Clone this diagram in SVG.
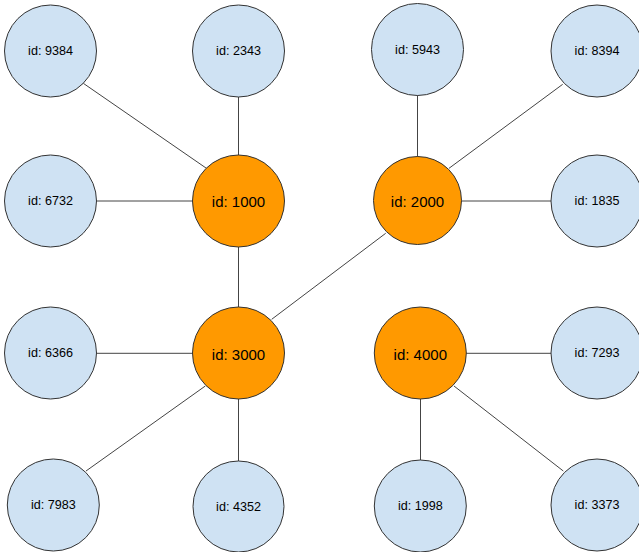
<svg xmlns="http://www.w3.org/2000/svg" width="639" height="552" viewBox="0 0 639 552">
<style>
.leaf circle{fill:#cfe2f3;stroke:#333;stroke-width:1}
.hub circle{fill:#ff9900;stroke:#333;stroke-width:1}
text{font-family:"Liberation Sans",Arial,sans-serif;fill:#000;text-anchor:middle;dominant-baseline:central}
.leaf text{font-size:12.6px}
.hub text{font-size:15px}
#edges line{stroke:#444;stroke-width:1}
</style>
<rect width="639" height="552" fill="#fff"/>
<g id="edges">
<line x1="83.3" y1="83.3" x2="206" y2="168"/>
<line x1="238.5" y1="97" x2="238.5" y2="155"/>
<line x1="97" y1="201" x2="193" y2="201"/>
<line x1="238.5" y1="247" x2="238.5" y2="307"/>
<line x1="417.5" y1="95" x2="417.5" y2="157"/>
<line x1="562.7" y1="84.3" x2="449" y2="168.3"/>
<line x1="461" y1="201" x2="551" y2="201"/>
<line x1="385.7" y1="233.3" x2="271.7" y2="319.3"/>
<line x1="97" y1="353.3" x2="193" y2="353.3"/>
<line x1="205.3" y1="386" x2="86" y2="471"/>
<line x1="238.5" y1="399" x2="238.5" y2="461"/>
<line x1="466" y1="353.3" x2="551" y2="353.3"/>
<line x1="420.5" y1="399" x2="420.5" y2="460"/>
<line x1="454" y1="386" x2="563.3" y2="471"/>
</g>
<g id="n9384" class="leaf"><circle cx="50.5" cy="51" r="46"/><text x="50.5" y="51">id: 9384</text></g>
<g id="n2343" class="leaf"><circle cx="238.5" cy="51" r="46"/><text x="238.5" y="51">id: 2343</text></g>
<g id="n5943" class="leaf"><circle cx="417.5" cy="49.5" r="46"/><text x="417.5" y="49.5">id: 5943</text></g>
<g id="n8394" class="leaf"><circle cx="597" cy="51" r="46"/><text x="597" y="51">id: 8394</text></g>
<g id="n6732" class="leaf"><circle cx="50.5" cy="201" r="46"/><text x="50.5" y="201">id: 6732</text></g>
<g id="n1000" class="hub"><circle cx="238.5" cy="201" r="46"/><text x="238.5" y="201">id: 1000</text></g>
<g id="n2000" class="hub"><circle cx="417.5" cy="200.5" r="44"/><text x="417.5" y="201">id: 2000</text></g>
<g id="n1835" class="leaf"><circle cx="597" cy="201" r="46"/><text x="597" y="201">id: 1835</text></g>
<g id="n6366" class="leaf"><circle cx="50.5" cy="353" r="46"/><text x="50.5" y="353">id: 6366</text></g>
<g id="n3000" class="hub"><circle cx="238.5" cy="353" r="46"/><text x="238.5" y="354">id: 3000</text></g>
<g id="n4000" class="hub"><circle cx="420.3" cy="353" r="46"/><text x="420.3" y="354">id: 4000</text></g>
<g id="n7293" class="leaf"><circle cx="597" cy="353" r="46"/><text x="597" y="353">id: 7293</text></g>
<g id="n7983" class="leaf"><circle cx="53.3" cy="505" r="46"/><text x="53.3" y="505">id: 7983</text></g>
<g id="n4352" class="leaf"><circle cx="238.5" cy="506.5" r="45.5"/><text x="238.5" y="506.5">id: 4352</text></g>
<g id="n1998" class="leaf"><circle cx="420.3" cy="506" r="46"/><text x="420.3" y="506">id: 1998</text></g>
<g id="n3373" class="leaf"><circle cx="597" cy="505" r="46"/><text x="597" y="505">id: 3373</text></g>
</svg>
